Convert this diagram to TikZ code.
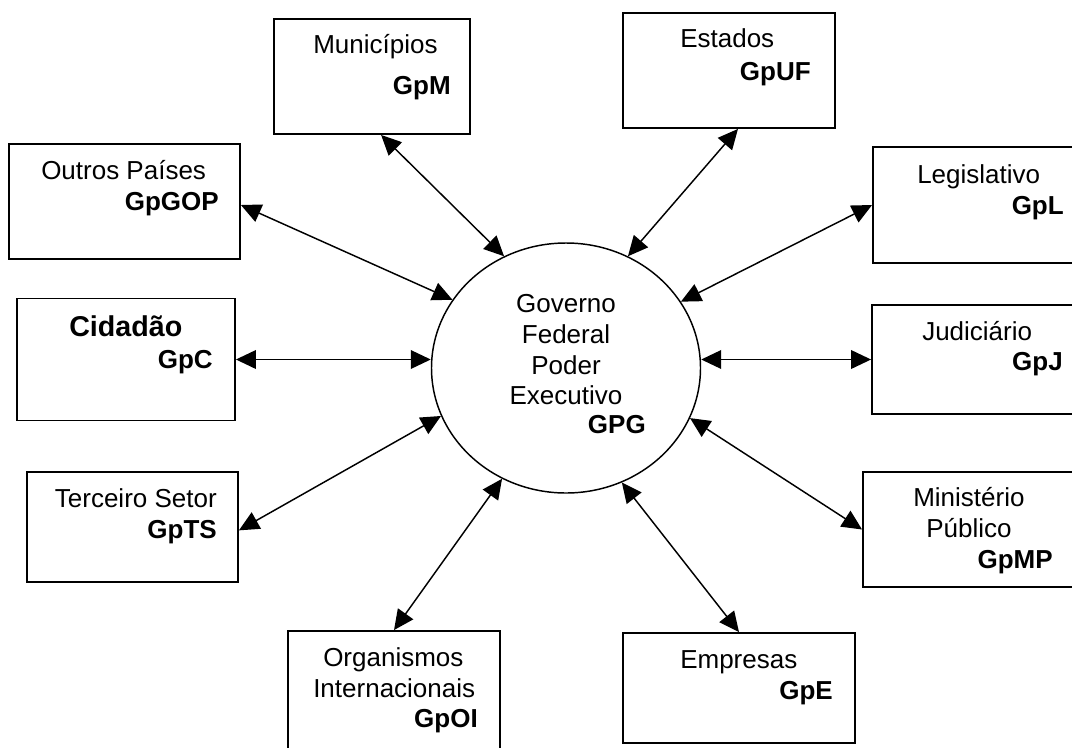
\documentclass[tikz,border=0pt]{standalone}
\usepackage{fontspec}
\setmainfont{Liberation Sans}
\usetikzlibrary{shapes.geometric,arrows.meta,calc}
\tikzset{
  bx/.style={draw, line width=1.4pt, inner sep=0pt, rectangle},
  gv/.style={draw, line width=1.1pt, ellipse, inner sep=0pt,
    minimum width=201.75pt, minimum height=187.5pt},
  tx/.style={inner sep=0pt, font=\fontsize{19.5}{23}\selectfont},
  bt/.style={inner sep=0pt, font=\fontsize{19.5}{23}\selectfont\bfseries},
  arr/.style={line width=1.1pt, {Triangle[length=15pt,width=14pt]}-{Triangle[length=15pt,width=14pt]}}
}
\begin{document}
\begin{tikzpicture}[x=0.75pt,y=-0.75pt]
\useasboundingbox (0,0) rectangle (1072,747);
\clip (0,0) rectangle (1072,747);
% boxes
\node[bx, minimum width=147pt,    minimum height=86.25pt] (mun) at (372,76.5) {};
\node[bx, minimum width=159pt,    minimum height=86.25pt] (est) at (729,70.5) {};
\node[bx, minimum width=173.25pt, minimum height=86.25pt] (out) at (124.5,201.5) {};
\node[bx, minimum width=159pt,    minimum height=87pt]    (leg) at (979,205) {};
\node[bx, minimum width=163.5pt,  minimum height=91.5pt]  (cid) at (126,359.5) {};
\node[bx, minimum width=159.75pt, minimum height=81.75pt] (jud) at (978.5,359.5) {};
\node[bx, minimum width=158.25pt, minimum height=82.5pt]  (ter) at (132.5,527) {};
\node[bx, minimum width=166.5pt,  minimum height=86.25pt] (min) at (974,529.5) {};
\node[bx, minimum width=159pt,    minimum height=96.75pt] (org) at (394,695.5) {};
\node[bx, minimum width=174pt,    minimum height=82.5pt]  (emp) at (739,688) {};
% centre
\node[gv] (gov) at (566,368) {};
% texts
\node[tx, anchor=base west] (munA) at (313,53) {Municípios};
\node[bt, anchor=base east] (munB) at (451,94) {GpM};
\node[tx, anchor=base west] (estA) at (680,47) {Estados};
\node[bt, anchor=base east] (estB) at (811,80) {GpUF};
\node[tx, anchor=base west] (outA) at (41,179) {Outros Países};
\node[bt, anchor=base east] (outB) at (219,210) {GpGOP};
\node[tx, anchor=base west] (legA) at (917,183) {Legislativo};
\node[bt, anchor=base east] (legB) at (1064,214) {GpL};
\node[inner sep=0pt, font=\fontsize{21.5}{25}\selectfont\bfseries, anchor=base west] (cidA) at (69,336) {Cidadão};
\node[bt, anchor=base east] (cidB) at (213,368) {GpC};
\node[tx, anchor=base west] (judA) at (922,340) {Judiciário};
\node[bt, anchor=base east] (judB) at (1063,370) {GpJ};
\node[tx, anchor=base east] (terA) at (217,507) {Terceiro Setor};
\node[bt, anchor=base east] (terB) at (217,538) {GpTS};
\node[tx, anchor=base west] (minA) at (913,506) {Ministério};
\node[tx, anchor=base west] (minB) at (926,537) {Público};
\node[bt, anchor=base east] (minC) at (1053,568) {GpMP};
\node[tx, anchor=base west] (orgA) at (323,666) {Organismos};
\node[tx, anchor=base west] (orgB) at (313,697) {Internacionais};
\node[bt, anchor=base east] (orgC) at (478,727) {GpOI};
\node[tx, anchor=base west] (empA) at (680,668) {Empresas};
\node[bt, anchor=base east] (empB) at (833,699) {GpE};
\node[tx, anchor=base] (govA) at (566,312) {Governo};
\node[tx, anchor=base] (govB) at (566,343) {Federal};
\node[tx, anchor=base] (govC) at (566,374) {Poder};
\node[tx, anchor=base] (govD) at (566,404) {Executivo};
\node[bt, anchor=base east] (govE) at (646,433) {GPG};
% connectors
\draw[arr] ($(mun.south west)!0.546!(mun.south east)$) -- (gov.119.6);
\draw[arr] ($(est.south west)!0.542!(est.south east)$) -- (gov.61.2);
\draw[arr] ($(out.north east)!0.53!(out.south east)$) -- (gov.149.6);
\draw[arr] (leg.west) -- (gov.30.4);
\draw[arr] (cid.east) -- (cid.east -| gov.west);
\draw[arr] (jud.west) -- (jud.west -| gov.east);
\draw[arr] ($(ter.north east)!0.53!(ter.south east)$) -- (gov.201.8);
\draw[arr] (min.west) -- (gov.338.4);
\draw[arr] (org.north) -- (gov.240.2);
\draw[arr] (emp.north) -- (gov.296.2);
\end{tikzpicture}
\end{document}
